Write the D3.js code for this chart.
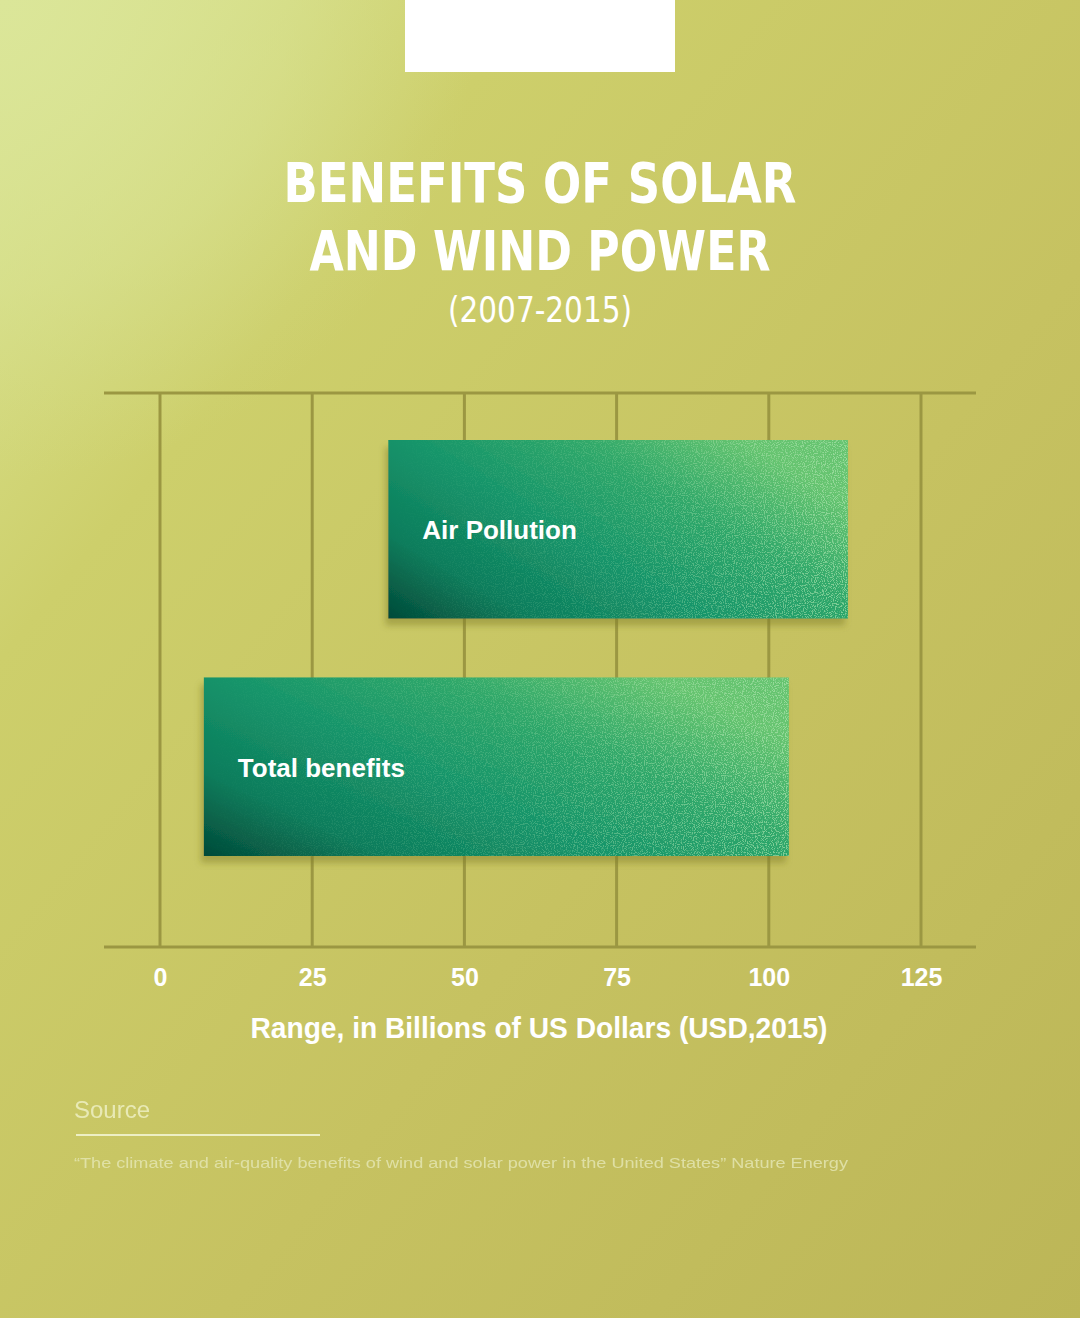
<!DOCTYPE html>
<html>
<head>
<meta charset="utf-8">
<script src="https://cdn.jsdelivr.net/npm/d3@7"></script>
<style>
  html, body { margin: 0; padding: 0; background: #c6c262; }
  svg { display: block; }
</style>
</head>
<body>
<svg id="chart" width="1080" height="1318"></svg>
<script>
// ---- data ----
const categories = ["Air Pollution", "Total benefits"];
const lowValues  = [37.5, 7.2];
const highValues = [113.0, 103.3];
const tickValues = [0, 25, 50, 75, 100, 125];
const titleLines = ["BENEFITS OF SOLAR", "AND WIND POWER"];
const subtitle = "(2007-2015)";
const axisTitle = "Range, in Billions of US Dollars (USD,2015)";
const sourceLabel = "Source";
const sourceText = "\u201CThe climate and air-quality benefits of wind and solar power in the United States\u201D Nature Energy";

const W = 1080, H = 1318;
const svg = d3.select("#chart");
const defs = svg.append("defs");

// background gradients
const bg = defs.append("linearGradient").attr("id", "bg").attr("x1", 0).attr("y1", 0).attr("x2", 1).attr("y2", 1);
bg.append("stop").attr("offset", "0").attr("stop-color", "#dce796");
bg.append("stop").attr("offset", "0.25").attr("stop-color", "#cdcf6b");
bg.append("stop").attr("offset", "0.6").attr("stop-color", "#c6c261");
bg.append("stop").attr("offset", "1").attr("stop-color", "#bcb657");

const glow = defs.append("radialGradient").attr("id", "glow")
  .attr("gradientUnits", "userSpaceOnUse").attr("cx", 0).attr("cy", 0).attr("r", 480);
glow.append("stop").attr("offset", "0").attr("stop-color", "#dbe699").attr("stop-opacity", 1);
glow.append("stop").attr("offset", "0.6").attr("stop-color", "#d8e293").attr("stop-opacity", 0.5);
glow.append("stop").attr("offset", "1").attr("stop-color", "#d3db88").attr("stop-opacity", 0);

// bar gradient
const bargrad = defs.append("linearGradient").attr("id", "bargrad")
  .attr("x1", 0).attr("y1", 1).attr("x2", 1).attr("y2", 0.35);
bargrad.append("stop").attr("offset", "0").attr("stop-color", "#034a39");
bargrad.append("stop").attr("offset", "0.22").attr("stop-color", "#0d7d5c");
bargrad.append("stop").attr("offset", "0.48").attr("stop-color", "#16946a");
bargrad.append("stop").attr("offset", "0.75").attr("stop-color", "#30a86b");
bargrad.append("stop").attr("offset", "1").attr("stop-color", "#66c46f");

// speckle mask gradient (more speckle to the right)
const speckGrad = defs.append("linearGradient").attr("id", "speckGrad")
  .attr("x1", 0).attr("y1", 0).attr("x2", 1).attr("y2", 0);
speckGrad.append("stop").attr("offset", "0").attr("stop-color", "#fff").attr("stop-opacity", 0);
speckGrad.append("stop").attr("offset", "0.5").attr("stop-color", "#fff").attr("stop-opacity", 0.3);
speckGrad.append("stop").attr("offset", "1").attr("stop-color", "#fff").attr("stop-opacity", 0.9);
const mask = defs.append("mask").attr("id", "speckMask").attr("maskContentUnits", "objectBoundingBox");
mask.append("rect").attr("x", 0).attr("y", 0).attr("width", 1).attr("height", 1).attr("fill", "url(#speckGrad)");

const noise = defs.append("filter").attr("id", "noise").attr("x", 0).attr("y", 0).attr("width", 1).attr("height", 1);
noise.append("feTurbulence").attr("type", "fractalNoise").attr("baseFrequency", 0.9).attr("numOctaves", 1).attr("seed", 4).attr("result", "t");
noise.append("feColorMatrix").attr("in", "t").attr("type", "matrix")
  .attr("values", "0 0 0 0 0.45  0 0 0 0 0.80  0 0 0 0 0.45  0 0 0 9 -4.6").attr("result", "dots");
noise.append("feComposite").attr("in", "dots").attr("in2", "SourceGraphic").attr("operator", "in");

const shadow = defs.append("filter").attr("id", "shadow").attr("x", "-10%").attr("y", "-10%").attr("width", "120%").attr("height", "130%");
shadow.append("feDropShadow").attr("dx", -3).attr("dy", 7).attr("stdDeviation", 3)
  .attr("flood-color", "#7d7828").attr("flood-opacity", 0.45);

svg.append("rect").attr("width", W).attr("height", H).attr("fill", "url(#bg)");
svg.append("rect").attr("width", W).attr("height", H).attr("fill", "url(#glow)");

// top white box
svg.append("rect").attr("x", 405).attr("y", 0).attr("width", 270).attr("height", 72).attr("fill", "#ffffff");

// titles
const titleFont = "'DejaVu Sans Condensed', 'Roboto', sans-serif";
const titleLens = [513, 461];
svg.selectAll("text.title").data(titleLines).enter().append("text")
  .attr("class", "title")
  .attr("x", W / 2).attr("y", (d, i) => 202 + i * 68)
  .attr("text-anchor", "middle")
  .attr("font-family", titleFont).attr("font-weight", 700).attr("font-size", 56)
  .attr("fill", "#ffffff")
  .attr("textLength", (d, i) => titleLens[i]).attr("lengthAdjust", "spacingAndGlyphs")
  .text(d => d);

svg.append("text")
  .attr("x", W / 2).attr("y", 322).attr("text-anchor", "middle")
  .attr("font-family", "'DejaVu Sans Condensed', 'Roboto', sans-serif").attr("font-weight", 400).attr("font-size", 36)
  .attr("fill", "#ffffff")
  .attr("textLength", 184).attr("lengthAdjust", "spacingAndGlyphs")
  .text(subtitle);

// scales
const x = d3.scaleLinear().domain([0, 125]).range([160, 921]);
const y = d3.scaleBand().domain(categories).range([440, 856]).paddingInner(0.248).paddingOuter(0);
const gridTop = 393, gridBottom = 947;
const lineColor = "#9b9742";

// vertical grid
svg.append("g").selectAll("line").data(tickValues).enter().append("line")
  .attr("x1", d => x(d)).attr("x2", d => x(d))
  .attr("y1", gridTop).attr("y2", gridBottom)
  .attr("stroke", lineColor).attr("stroke-width", 3);

// horizontal boundary lines
svg.append("g").selectAll("line").data([gridTop, gridBottom]).enter().append("line")
  .attr("x1", 104).attr("x2", 976).attr("y1", d => d).attr("y2", d => d)
  .attr("stroke", lineColor).attr("stroke-width", 3);

// bars
const data = categories.map((c, i) => ({ cat: c, lo: lowValues[i], hi: highValues[i] }));
const barG = svg.append("g");
barG.selectAll("rect.bar").data(data).enter().append("rect")
  .attr("class", "bar")
  .attr("x", d => x(d.lo)).attr("y", d => y(d.cat))
  .attr("width", d => x(d.hi) - x(d.lo)).attr("height", y.bandwidth())
  .attr("fill", "url(#bargrad)")
  .attr("filter", "url(#shadow)");

barG.selectAll("rect.speck").data(data).enter().append("rect")
  .attr("class", "speck")
  .attr("x", d => x(d.lo)).attr("y", d => y(d.cat))
  .attr("width", d => x(d.hi) - x(d.lo)).attr("height", y.bandwidth())
  .attr("fill", "#ffffff")
  .attr("filter", "url(#noise)")
  .attr("mask", "url(#speckMask)")
  .attr("opacity", 0.7);

barG.selectAll("text.lbl").data(data).enter().append("text")
  .attr("class", "lbl")
  .attr("x", d => x(d.lo) + 34).attr("y", d => y(d.cat) + y.bandwidth() / 2 + 10)
  .attr("font-family", "'Liberation Sans', Arial, sans-serif").attr("font-weight", 700).attr("font-size", 26)
  .attr("fill", "#ffffff")
  .text(d => d.cat);

// axis tick labels
const axis = d3.axisBottom(x).tickValues(tickValues).tickSize(0).tickPadding(0).tickFormat(d3.format("d"));
const axG = svg.append("g").attr("transform", `translate(0, ${gridBottom})`).call(axis);
axG.select(".domain").remove();
axG.selectAll("text")
  .attr("dy", null).attr("y", 39)
  .attr("font-family", "'Liberation Sans Narrow', 'Liberation Sans', Arial, sans-serif")
  .attr("font-weight", 700).attr("font-size", 25)
  .attr("fill", "#ffffff");

svg.append("text")
  .attr("x", 539).attr("y", 1038).attr("text-anchor", "middle")
  .attr("font-family", "'Liberation Sans Narrow', 'Liberation Sans', Arial, sans-serif")
  .attr("font-weight", 700).attr("font-size", 29)
  .attr("fill", "#ffffff")
  .attr("textLength", 577).attr("lengthAdjust", "spacingAndGlyphs")
  .text(axisTitle);

// source
svg.append("text")
  .attr("x", 74).attr("y", 1118)
  .attr("font-family", "'Liberation Sans', Arial, sans-serif").attr("font-size", 24)
  .attr("fill", "#eef0c4").attr("opacity", 0.85)
  .text(sourceLabel);
svg.append("line").attr("x1", 76).attr("x2", 320).attr("y1", 1135).attr("y2", 1135)
  .attr("stroke", "#f2f4cf").attr("stroke-width", 2).attr("opacity", 0.9);
svg.append("text")
  .attr("x", 74).attr("y", 1168)
  .attr("font-family", "'Liberation Sans Narrow', 'Liberation Sans', Arial, sans-serif").attr("font-size", 15)
  .attr("fill", "#e6e8b6").attr("opacity", 0.8)
  .attr("textLength", 774).attr("lengthAdjust", "spacingAndGlyphs")
  .text(sourceText);
</script>
</body>
</html>
